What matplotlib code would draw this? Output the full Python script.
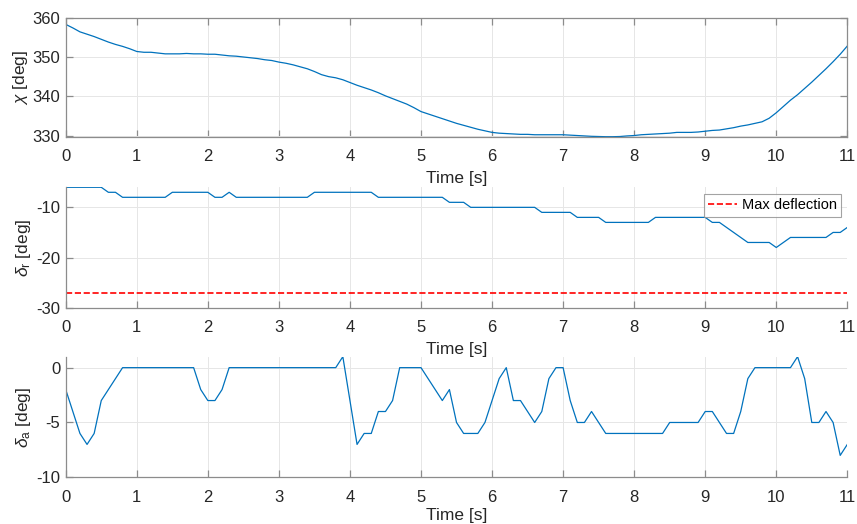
import numpy as np
import matplotlib
matplotlib.use("Agg")
import matplotlib.pyplot as plt

plt.rcParams['font.family'] = ['Liberation Sans', 'DejaVu Sans']
plt.rcParams['mathtext.fontset'] = 'custom'
plt.rcParams['mathtext.rm'] = 'Liberation Sans'
plt.rcParams['mathtext.it'] = 'Liberation Sans:italic'
plt.rcParams['axes.unicode_minus'] = False

# time samples (0.1 s step, 0 .. 11 s)
time = np.round(np.arange(111) * 0.1, 1)

# course angle chi [deg]
chi = [358.3, 357.4, 356.4, 355.8, 355.2, 354.5, 353.8, 353.2, 352.7, 352.1,
       351.4, 351.2, 351.2, 351.0, 350.8, 350.8, 350.8, 350.9, 350.8, 350.8,
       350.7, 350.7, 350.5, 350.3, 350.2, 350.0, 349.8, 349.6, 349.3, 349.1,
       348.7, 348.4, 348.0, 347.5, 347.0, 346.3, 345.5, 345.0, 344.7, 344.2,
       343.5, 342.8, 342.2, 341.6, 340.9, 340.1, 339.4, 338.7, 338.0, 337.1,
       336.1, 335.5, 334.9, 334.3, 333.7, 333.1, 332.6, 332.1, 331.6, 331.2,
       330.8, 330.6, 330.5, 330.4, 330.3, 330.3, 330.2, 330.2, 330.2, 330.2,
       330.2, 330.1, 330.0, 329.9, 329.8, 329.75, 329.7, 329.7, 329.75, 329.9,
       330.0, 330.2, 330.3, 330.4, 330.5, 330.6, 330.8, 330.8, 330.8, 330.9,
       331.1, 331.3, 331.4, 331.7, 332.0, 332.4, 332.7, 333.1, 333.5, 334.4,
       335.8, 337.4, 339.0, 340.4, 342.0, 343.6, 345.3, 347.0, 348.8, 350.7,
       352.8]

# rudder deflection [deg]
delta_r = ([-6] * 6 + [-7] * 2 + [-8] * 7 + [-7] * 6 + [-8] * 2 + [-7] + [-8] * 11
           + [-7] * 9 + [-8] * 10 + [-9] * 3 + [-10] * 10 + [-11] * 5 + [-12] * 4
           + [-13] * 7 + [-12] * 8 + [-13] * 2 + [-14, -15, -16] + [-17] * 4
           + [-18, -17] + [-16] * 6 + [-15] * 2 + [-14])

# aileron deflection [deg]
delta_a = ([-2, -4, -6, -7, -6, -3, -2, -1] + [0] * 11 + [-2, -3, -3, -2] + [0] * 16
           + [1, -3, -7, -6, -6, -4, -4, -3] + [0] * 4 + [-1, -2, -3, -2, -5, -6, -6, -6]
           + [-5, -3, -1, 0, -3, -3, -4, -5, -4, -1, 0, 0, -3, -5, -5, -4, -5]
           + [-6] * 9 + [-5] * 5 + [-4, -4, -5, -6, -6, -4, -1] + [0] * 6
           + [1, -1, -5, -5, -4, -5, -8, -7])

max_defl = -27

blue = '#0072BD'
spine_c = '#8c8c8c'
txt_c = '#262626'

fig = plt.figure(figsize=(8.57, 5.24), dpi=100)
boxes = [(0.0767, 0.7391, 0.912, 0.2271),
         (0.0767, 0.4128, 0.912, 0.2298),
         (0.0767, 0.0891, 0.912, 0.2302)]
axs = [fig.add_axes(b) for b in boxes]


def style(ax, box_on, lpad=5):
    ax.set_xlim(0, 11)
    ax.set_xticks(range(12))
    ax.grid(True, color='#e6e6e6', linewidth=0.7)
    ax.set_axisbelow(True)
    for s in ax.spines.values():
        s.set_color(spine_c)
        s.set_linewidth(0.9)
    if not box_on:
        ax.spines['top'].set_visible(False)
        ax.spines['right'].set_visible(False)
    ax.tick_params(direction='in', length=5, width=0.9, color=spine_c,
                   labelsize=12, labelcolor=txt_c,
                   top=box_on, right=box_on)
    ax.tick_params(axis='x', pad=9)
    ax.tick_params(axis='y', pad=4)
    ax.set_xlabel('Time [s]', fontsize=12.5, color=txt_c, labelpad=lpad)


ax = axs[0]
ax.plot(time, chi, color=blue, linewidth=0.9)
style(ax, True)
ax.set_ylim(min(chi), 360)
ax.set_yticks([330, 340, 350, 360])
ax.set_ylabel(r'$\chi$ [deg]', fontsize=12.5, color=txt_c, labelpad=2)

ax = axs[1]
ax.plot(time, delta_r, color=blue, linewidth=0.9)
ax.axhline(max_defl, color='#ff0000', linestyle='--', linewidth=1.2, label='Max deflection')
style(ax, False)
ax.set_ylim(-30, -6)
ax.set_yticks([-30, -20, -10])
ax.set_ylabel(r'$\delta_{\rm r}$ [deg]', fontsize=12.5, color=txt_c, labelpad=2)
leg = ax.legend(loc='upper right', fontsize=10.5, frameon=True, fancybox=False,
                borderpad=0.3, borderaxespad=0, handlelength=2.0, handletextpad=0.3,
                bbox_to_anchor=(0.992, 0.944))
leg.get_frame().set_edgecolor(spine_c)
leg.get_frame().set_linewidth(0.8)

ax = axs[2]
ax.plot(time, delta_a, color=blue, linewidth=0.9)
style(ax, False, lpad=2)
ax.set_ylim(-10, 1)
ax.set_yticks([-10, -5, 0])
ax.set_ylabel(r'$\delta_{\rm a}$ [deg]', fontsize=12.5, color=txt_c, labelpad=2)

fig.savefig('out.png', dpi=100)
